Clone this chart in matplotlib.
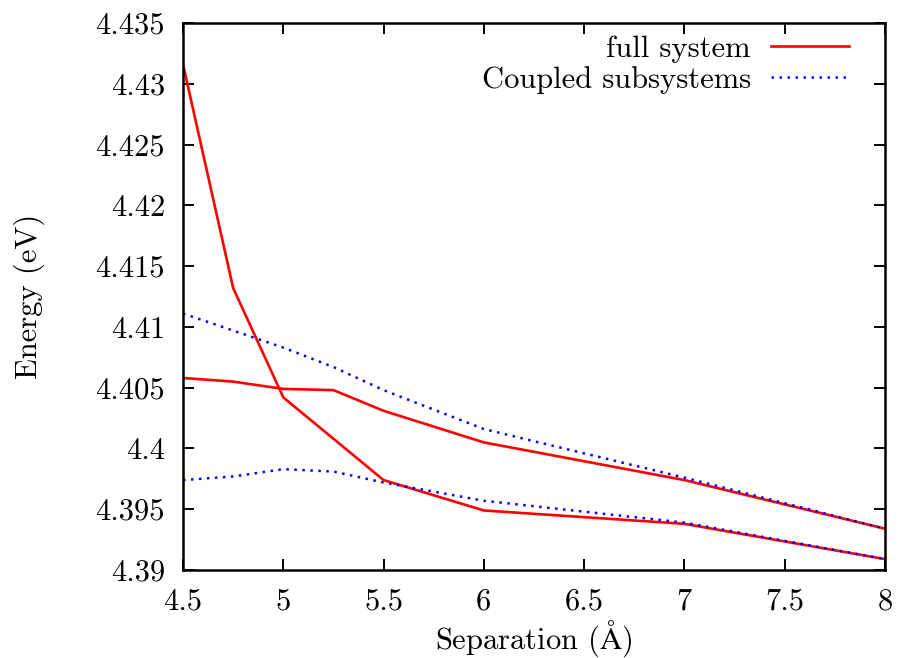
import matplotlib
matplotlib.use("Agg")
import matplotlib.pyplot as plt

# Separation (Angstrom) and energies (eV)
separation = [4.5, 4.75, 5.0, 5.25, 5.5, 6.0, 7.0, 8.0]

full_upper = [4.4316, 4.4132, 4.4042, 4.4008, 4.3974, 4.3949, 4.3938, 4.3909]
full_lower = [4.4058, 4.4055, 4.4049, 4.4048, 4.4031, 4.4005, 4.3974, 4.3934]

coupled_upper = [4.4111, 4.4097, 4.4083, 4.4067, 4.4048, 4.4016, 4.3976, 4.3934]
coupled_lower = [4.3974, 4.3977, 4.3983, 4.3981, 4.3972, 4.3957, 4.3939, 4.3909]

x_ticks = [4.5, 5, 5.5, 6, 6.5, 7, 7.5, 8]
x_tick_labels = ["4.5", "5", "5.5", "6", "6.5", "7", "7.5", "8"]
y_ticks = [4.39, 4.395, 4.4, 4.405, 4.41, 4.415, 4.42, 4.425, 4.43, 4.435]
y_tick_labels = ["4.39", "4.395", "4.4", "4.405", "4.41", "4.415", "4.42", "4.425", "4.43", "4.435"]

plt.rcParams["font.family"] = ["cmr10", "DejaVu Serif"]
plt.rcParams["mathtext.fontset"] = "cm"
plt.rcParams["axes.unicode_minus"] = False

fig = plt.figure(figsize=(8.98, 6.58), dpi=100)
ax = fig.add_axes([0.2038, 0.1337, 0.9855 - 0.2038, 0.965 - 0.1337])

ax.plot(separation, full_upper, color="#ff0000", lw=1.9, label="full system")
ax.plot(separation, full_lower, color="#ff0000", lw=1.9)
ax.plot(separation, coupled_upper, color="#0000ff", lw=1.8, linestyle=(0, (1, 2.2)),
        label="Coupled subsystems")
ax.plot(separation, coupled_lower, color="#0000ff", lw=1.8, linestyle=(0, (1, 2.2)))

ax.set_xlim(4.5, 8)
ax.set_ylim(4.39, 4.435)
ax.set_xticks(x_ticks, x_tick_labels)
ax.set_yticks(y_ticks, y_tick_labels)
ax.tick_params(direction="in", length=8, width=1.4, top=True, right=True,
               labelsize=22, pad=13)
for spine in ax.spines.values():
    spine.set_linewidth(1.8)

ax.set_xlabel(r"Separation ($\mathrm{\AA}$)", fontsize=22, labelpad=2)
ax.set_ylabel("Energy (eV)", fontsize=22, labelpad=36)

leg = ax.legend(loc="upper right", bbox_to_anchor=(0.97, 1.006), frameon=False,
                fontsize=22, markerfirst=False, handlelength=2.55,
                borderaxespad=0.1, labelspacing=0.1, handletextpad=0.65)
for text in leg.get_texts():
    text.set_horizontalalignment("right")

fig.savefig("out.png", dpi=100)
